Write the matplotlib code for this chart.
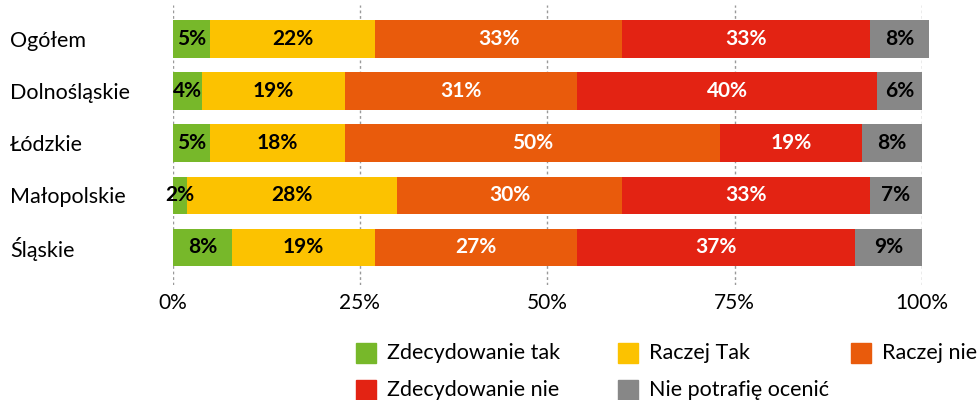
import matplotlib.pyplot as plt
from matplotlib.patches import Rectangle

plt.rcParams['font.family'] = ['Lato', 'DejaVu Sans']

regions = ['Ogółem', 'Dolnośląskie', 'Łódzkie', 'Małopolskie', 'Śląskie']
answers = ['Zdecydowanie tak', 'Raczej Tak', 'Raczej nie', 'Zdecydowanie nie', 'Nie potrafię ocenić']
zdecydowanie_tak = [5, 4, 5, 2, 8]
raczej_tak = [22, 19, 18, 28, 19]
raczej_nie = [33, 31, 50, 30, 27]
zdecydowanie_nie = [33, 40, 19, 33, 37]
nie_wiem = [8, 6, 8, 7, 9]
x_ticks = [0, 25, 50, 75, 100]

series = [zdecydowanie_tak, raczej_tak, raczej_nie, zdecydowanie_nie, nie_wiem]
colors = ['#77b82a', '#fcc200', '#e95b0c', '#e32313', '#878787']
text_colors = ['black', 'black', 'white', 'white', 'black']

fig = plt.figure(figsize=(9.77, 4.0), dpi=100)
W, H = 977, 400
ax = fig.add_axes([172.5 / W, 1 - 285 / H, (922 - 172.5) / W, 280 / H])

y = list(range(len(regions)))
left = [0] * len(regions)
for vals, col, tcol in zip(series, colors, text_colors):
    bars = ax.barh(y, vals, left=left, height=0.72, color=col, clip_on=False, zorder=2)
    for b, v in zip(bars, vals):
        ax.text(b.get_x() + b.get_width() / 2, b.get_y() + b.get_height() / 2, f'{v}%',
                ha='center', va='center', color=tcol, fontsize=15, fontweight='bold', zorder=3)
    left = [l + v for l, v in zip(left, vals)]

ax.set_xlim(0, 100)
ax.set_ylim(4.72, -0.65)
ax.set_xticks(x_ticks)
ax.set_xticklabels([f'{t}%' for t in x_ticks], fontsize=15)
ax.set_yticks(y)
ax.set_yticklabels(regions, fontsize=15.5, ha='left')
ax.tick_params(axis='y', length=0, pad=117)
ax.tick_params(axis='x', length=0, pad=6)
for s in ax.spines.values():
    s.set_visible(False)
for t in x_ticks:
    ax.axvline(t, color='#999999', lw=1, ls=(0, (2, 2)), zorder=1)

# legend laid out row by row like the original
leg_pos = [(356, 353), (618, 353), (851, 353), (356, 390), (618, 390)]
for (px, py), lab, col in zip(leg_pos, answers, colors):
    fig.patches.append(Rectangle((px / W, 1 - (py + 10) / H), 20 / W, 20 / H,
                                 transform=fig.transFigure, color=col))
    fig.text((px + 31) / W, 1 - py / H, lab, fontsize=15.5, va='center', ha='left')

fig.savefig('out.png', dpi=100)
